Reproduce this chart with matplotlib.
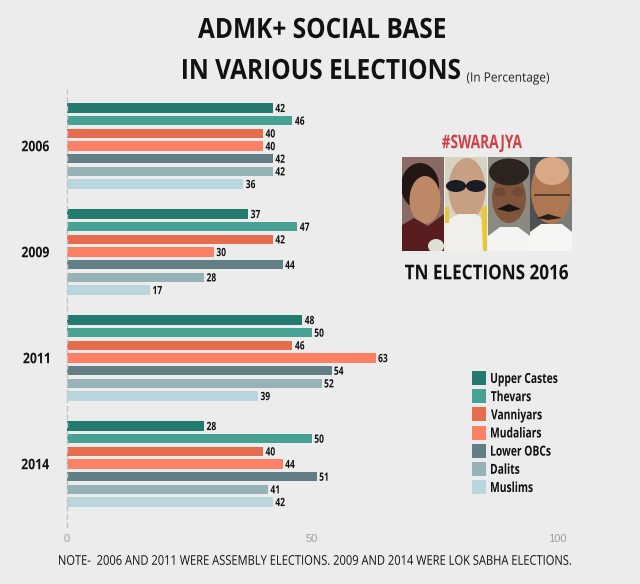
import matplotlib
matplotlib.use("Agg")
import matplotlib.pyplot as plt
from matplotlib.colors import to_rgba
from matplotlib.font_manager import FontProperties
from matplotlib.patches import Rectangle, Ellipse, Polygon
from matplotlib.text import Text
from matplotlib.textpath import TextPath
from matplotlib.transforms import Affine2D, Bbox

years = ["2006", "2009", "2011", "2014"]
groups = ["Upper Castes", "Thevars", "Vanniyars", "Mudaliars", "Lower OBCs", "Dalits", "Muslims"]
colors = ["#237b70", "#48a294", "#e66c4e", "#fb8064", "#627f85", "#95b2b6", "#b9d6dc"]
upper_castes = [42, 37, 48, 28]
thevars = [46, 47, 50, 50]
vanniyars = [40, 42, 46, 40]
mudaliars = [40, 30, 63, 44]
lower_obcs = [42, 44, 54, 51]
dalits = [42, 28, 52, 41]
muslims = [36, 17, 39, 42]
series = [upper_castes, thevars, vanniyars, mudaliars, lower_obcs, dalits, muslims]

W, H = 640, 584
BG = "#ececec"
FONT = "Open Sans"
plt.rcParams["font.family"] = [FONT, "DejaVu Sans"]


class NarrowText(Text):
    """Real text drawn with a horizontal squeeze (no condensed face is installed)."""
    xscale = 0.8

    def _geom(self):
        fp = self.get_fontproperties()
        size = fp.get_size_in_points()
        tp = TextPath((0, 0), self.get_text(), size=size, prop=fp)
        cap = TextPath((0, 0), "H", size=size, prop=fp).get_extents().height
        ext = tp.get_extents()
        s = self.figure.dpi / 72
        sx = s * self.xscale
        x, y = self.get_transform().transform(self.get_position())
        ha = self.get_ha()
        ax_ = {"left": x - ext.x0 * sx,
               "center": x - (ext.x0 + ext.x1) / 2 * sx,
               "right": x - ext.x1 * sx}[ha]
        ay = y - cap / 2 * s
        return tp, ext, Affine2D().scale(sx, s).translate(ax_, ay)

    def draw(self, renderer):
        if not self.get_visible() or not self.get_text():
            return
        tp, _, tr = self._geom()
        gc = renderer.new_gc()
        gc.set_linewidth(0)
        gc.set_antialiased(True)
        renderer.draw_path(gc, tp, tr, to_rgba(self.get_color()))
        gc.restore()
        self.stale = False

    def get_window_extent(self, renderer=None, dpi=None):
        if not self.get_text():
            return Bbox.null()
        _, ext, tr = self._geom()
        return Bbox(tr.transform(ext.get_points()))


def fx(px): return px / W
def fy(py): return 1 - py / H


fig = plt.figure(figsize=(W / 100, H / 100), dpi=100, facecolor=BG)


def put(px, py, s, size, width=None, xscale=0.8, bold=True, color="#111111", ha="left"):
    fp = FontProperties(family=FONT, size=size, weight="bold" if bold else "normal")
    t = NarrowText(fx(px), fy(py), s, fontproperties=fp, color=color, ha=ha, va="center",
                   transform=fig.transFigure)
    if width is not None:
        xscale = width / (TextPath((0, 0), s, size=size, prop=fp).get_extents().width * 100 / 72)
    t.xscale = xscale
    fig.add_artist(t)
    return t


# axes: 67..557 px wide, 90..527 px tall
ax = fig.add_axes([fx(67), fy(527), 490 / W, 437 / H], facecolor=BG)
step = 12.67
pitch = 106.0
first = 108.0
value_fp = FontProperties(family=FONT, size=8.2, weight="bold")
for i, year in enumerate(years):
    for j, vals in enumerate(series):
        y = first + i * pitch + j * step
        ax.barh(y, vals[i], height=9.2, color=colors[j], linewidth=0, zorder=2)
        t = NarrowText(vals[i] + 0.55, y, str(vals[i]), fontproperties=value_fp, color="#111111",
                       ha="left", va="center")
        t.xscale = 0.74
        ax.add_artist(t)
ax.set_xlim(0, 100)
ax.set_ylim(527, 90)
ax.set_yticks([first + i * pitch + 3 * step for i in range(4)])
ax.set_yticklabels(years, fontsize=10.5, fontweight="bold", color="#111111")
ax.set_xticks([0, 50, 100])
ax.set_xticklabels(["0", "50", "100"], fontsize=8, color="#a0a0a0", family="Liberation Sans")
ax.tick_params(axis="y", length=0, pad=13)
ax.tick_params(axis="x", length=0, pad=5)
for lab in ax.get_yticklabels():
    lab.__class__ = NarrowText
    lab.xscale = 0.84
for s in ("top", "right", "bottom"):
    ax.spines[s].set_visible(False)
ax.spines["left"].set_color("#c4c4c4")
ax.spines["left"].set_linestyle((0, (3, 3)))
ax.spines["left"].set_linewidth(1)

# titles and notes
put(198, 28, "ADMK+ SOCIAL BASE", 20, width=247)
put(460, 69, "IN VARIOUS ELECTIONS", 20, width=277, ha="right")
put(549, 77, "(In Percentage)", 9.3, width=82, bold=False, color="#222222", ha="right")
put(442, 141.5, "#SWARAJYA", 13.5, width=80, color="#cf3f45")
put(405, 272, "TN ELECTIONS 2016", 14.7, width=163)
put(315, 560, "NOTE-  2006 AND 2011 WERE ASSEMBLY ELECTIONS. 2009 AND 2014 WERE LOK SABHA ELECTIONS.",
    9.6, width=512, bold=False, ha="center")

# legend
for j, (name, c) in enumerate(zip(groups, colors)):
    y = 378 + j * 18.17
    fig.add_artist(Rectangle((fx(472), fy(y + 7)), 14 / W, 14 / H, transform=fig.transFigure, color=c, lw=0))
    put(491, y, name, 10, xscale=0.74)

# illustrative portrait panel (x 402..572, y 157..251)
pa = fig.add_axes([fx(402), fy(251), 170 / W, 94 / H])
pa.set_xlim(402, 572); pa.set_ylim(251, 157); pa.axis("off")
def rect(x, y, w, h, c): pa.add_patch(Rectangle((x, y), w, h, color=c, lw=0))
def ell(x, y, w, h, c): pa.add_patch(Ellipse((x, y), w, h, color=c, lw=0))
def poly(pts, c): pa.add_patch(Polygon(pts, color=c, lw=0))
rect(402, 157, 170, 94, "#ececec")
# person 1
rect(402, 157, 42, 94, "#8a6a64")
ell(420, 186, 38, 46, "#221715")
ell(425, 200, 31, 48, "#bd8866")
poly([(402, 251), (402, 225), (414, 218), (428, 226), (444, 214), (444, 251)], "#571d1f")
ell(436, 246, 16, 14, "#dfe0d4")
# person 2
rect(445, 157, 42, 94, "#d8d2c0")
ell(467, 189, 37, 62, "#c79f82")
ell(456, 186, 20, 12, "#1a1c24")
ell(476, 186, 20, 12, "#1a1c24")
poly([(445, 251), (445, 222), (458, 214), (476, 214), (487, 222), (487, 251)], "#f1efe9")
poly([(481, 208), (487, 206), (487, 251), (483, 251)], "#e6c83a")
rect(445, 207, 4, 16, "#e6c83a")
# person 3
rect(488, 157, 42, 94, "#8a8a80")
ell(509, 198, 34, 50, "#80553c")
ell(509, 172, 40, 27, "#2d2420")
ell(500, 192, 12, 9, "#6f4a35")
ell(518, 192, 12, 9, "#6f4a35")
poly([(497, 209), (509, 204), (521, 209), (509, 212)], "#1d1512")
poly([(488, 251), (488, 236), (500, 227), (518, 227), (530, 236), (530, 251)], "#f4f4f2")
# person 4
rect(530, 157, 21, 94, "#4f4f4f")
rect(551, 157, 21, 94, "#7b7b78")
ell(551, 191, 40, 66, "#ad7752")
ell(552, 171, 34, 28, "#d9a985")
rect(534, 194, 36, 2, "#55402f")
poly([(537, 218), (548, 214), (562, 218), (548, 220)], "#2a1d17")
poly([(530, 251), (530, 232), (541, 224), (562, 224), (572, 232), (572, 251)], "#f6f6f4")

fig.savefig("out.png", dpi=100, facecolor=BG)
